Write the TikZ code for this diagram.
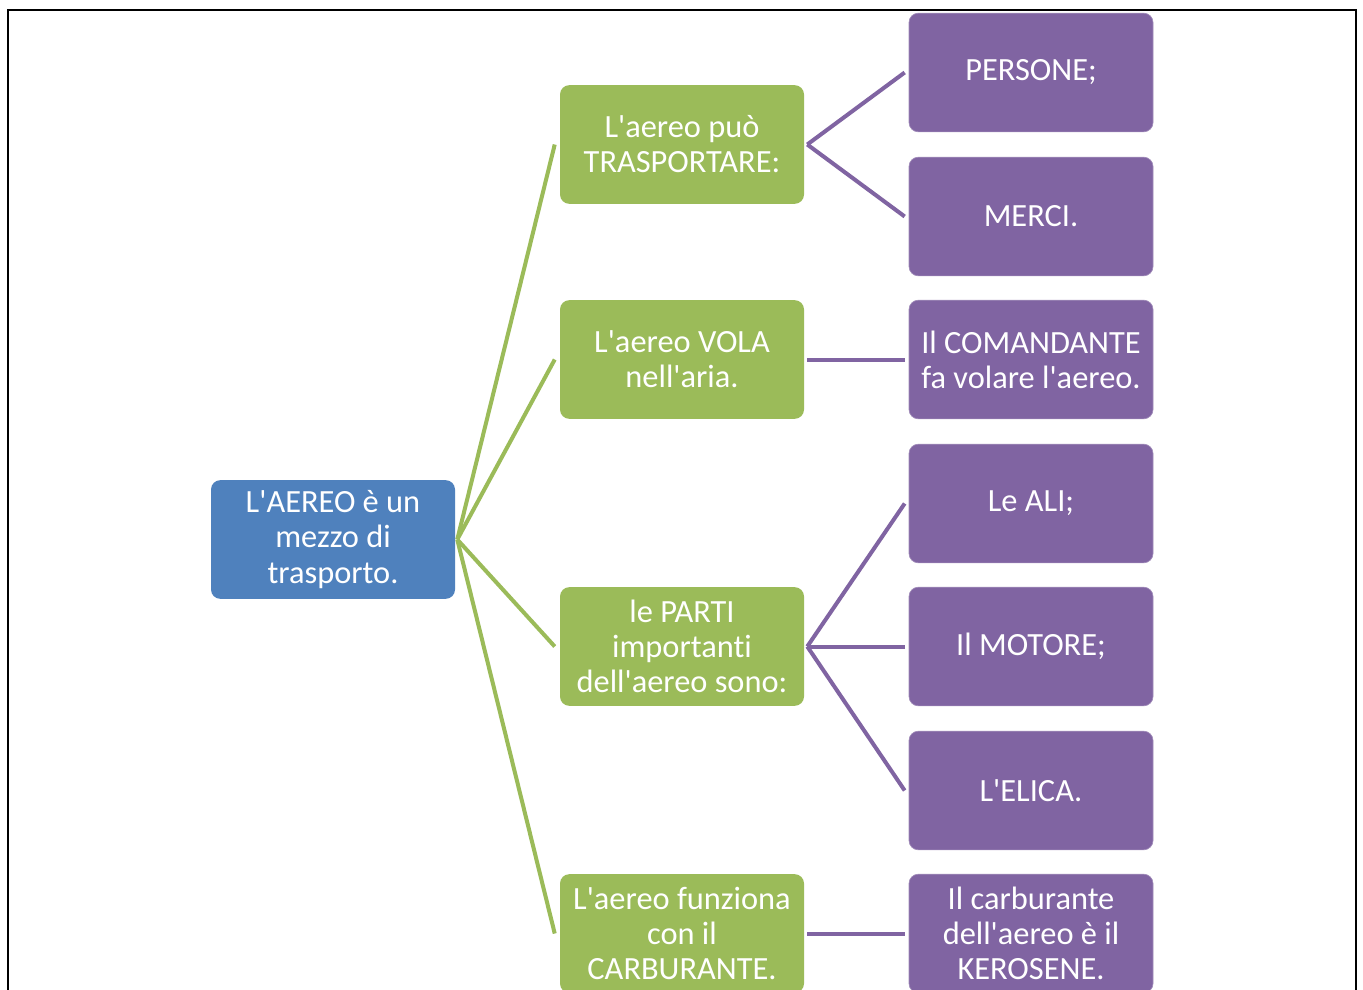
\documentclass[tikz,border=0pt]{standalone}
\usepackage{fontspec}
\setmainfont{Carlito}[Ligatures={TeXOff,NoCommon}]
\definecolor{cgreen}{HTML}{9BBB59}
\definecolor{cblue}{HTML}{4F81BD}
\definecolor{cpurple}{HTML}{8064A2}
\begin{document}
\begin{tikzpicture}[x=0.75pt,y=-0.75pt,
  box/.style={rounded corners=7pt, minimum width=183pt, minimum height=89pt, inner sep=2pt,
    text=white, align=center, font=\fontsize{24.3}{26.3}\selectfont},
  rootbox/.style={box, fill=cblue},
  gbox/.style={box, fill=cgreen},
  pbox/.style={box, fill=cpurple, draw=cpurple!75!white, line width=0.5pt},
  gline/.style={draw=cgreen, line width=3pt},
  pline/.style={draw=cpurple, line width=3pt}]
\useasboundingbox (0,0) rectangle (1363,989);
\clip (0,0) rectangle (1363,989);
\fill[white] (0,0) rectangle (1363,989);
\draw[line width=1.5pt] (8,10) rectangle (1356,1010);
% nodes
\node[rootbox] (root) at (333,539.5) {L'AEREO è un\\mezzo di\\trasporto.};
\node[gbox] (g1) at (682,144.5) {L'aereo può\\TRASPORTARE:};
\node[gbox] (g2) at (682,359.5) {L'aereo VOLA\\nell'aria.};
\node[gbox] (g3) at (682,646.5) {le PARTI\\importanti\\dell'aereo sono:};
\node[gbox] (g4) at (682,933.5) {L'aereo funziona\\con il\\CARBURANTE.};
\node[pbox] (p1) at (1031,72.5) {PERSONE;};
\node[pbox] (p2) at (1031,216.5) {MERCI.};
\node[pbox] (p3) at (1031,359.5) {Il COMANDANTE\\fa volare l'aereo.};
\node[pbox] (p4) at (1031,503.5) {Le ALI;};
\node[pbox] (p5) at (1031,646.5) {Il MOTORE;};
\node[pbox] (p6) at (1031,790.5) {L'ELICA.};
\node[pbox] (p7) at (1031,933.5) {Il carburante\\dell'aereo è il\\KEROSENE.};
% anchor coordinates
\coordinate (rs) at ([xshift=1.5pt]root.east);
\foreach \g in {g1,g2,g3,g4}{
  \coordinate (\g w) at ([xshift=-3.75pt]\g.west);
  \coordinate (\g e) at ([xshift=2.25pt]\g.east);
}
\foreach \p in {p1,p2,p3,p4,p5,p6,p7}{
  \coordinate (\p w) at ([xshift=-3pt]\p.west);
}
% connectors
\draw[gline] (rs) -- (g1w);
\draw[gline] (rs) -- (g2w);
\draw[gline] (rs) -- (g3w);
\draw[gline] (rs) -- (g4w);
\draw[pline] (g1e) -- (p1w);
\draw[pline] (g1e) -- (p2w);
\draw[pline] (g2e) -- (p3w);
\draw[pline] (g3e) -- (p4w);
\draw[pline] (g3e) -- (p5w);
\draw[pline] (g3e) -- (p6w);
\draw[pline] (g4e) -- (p7w);
\end{tikzpicture}
\end{document}
